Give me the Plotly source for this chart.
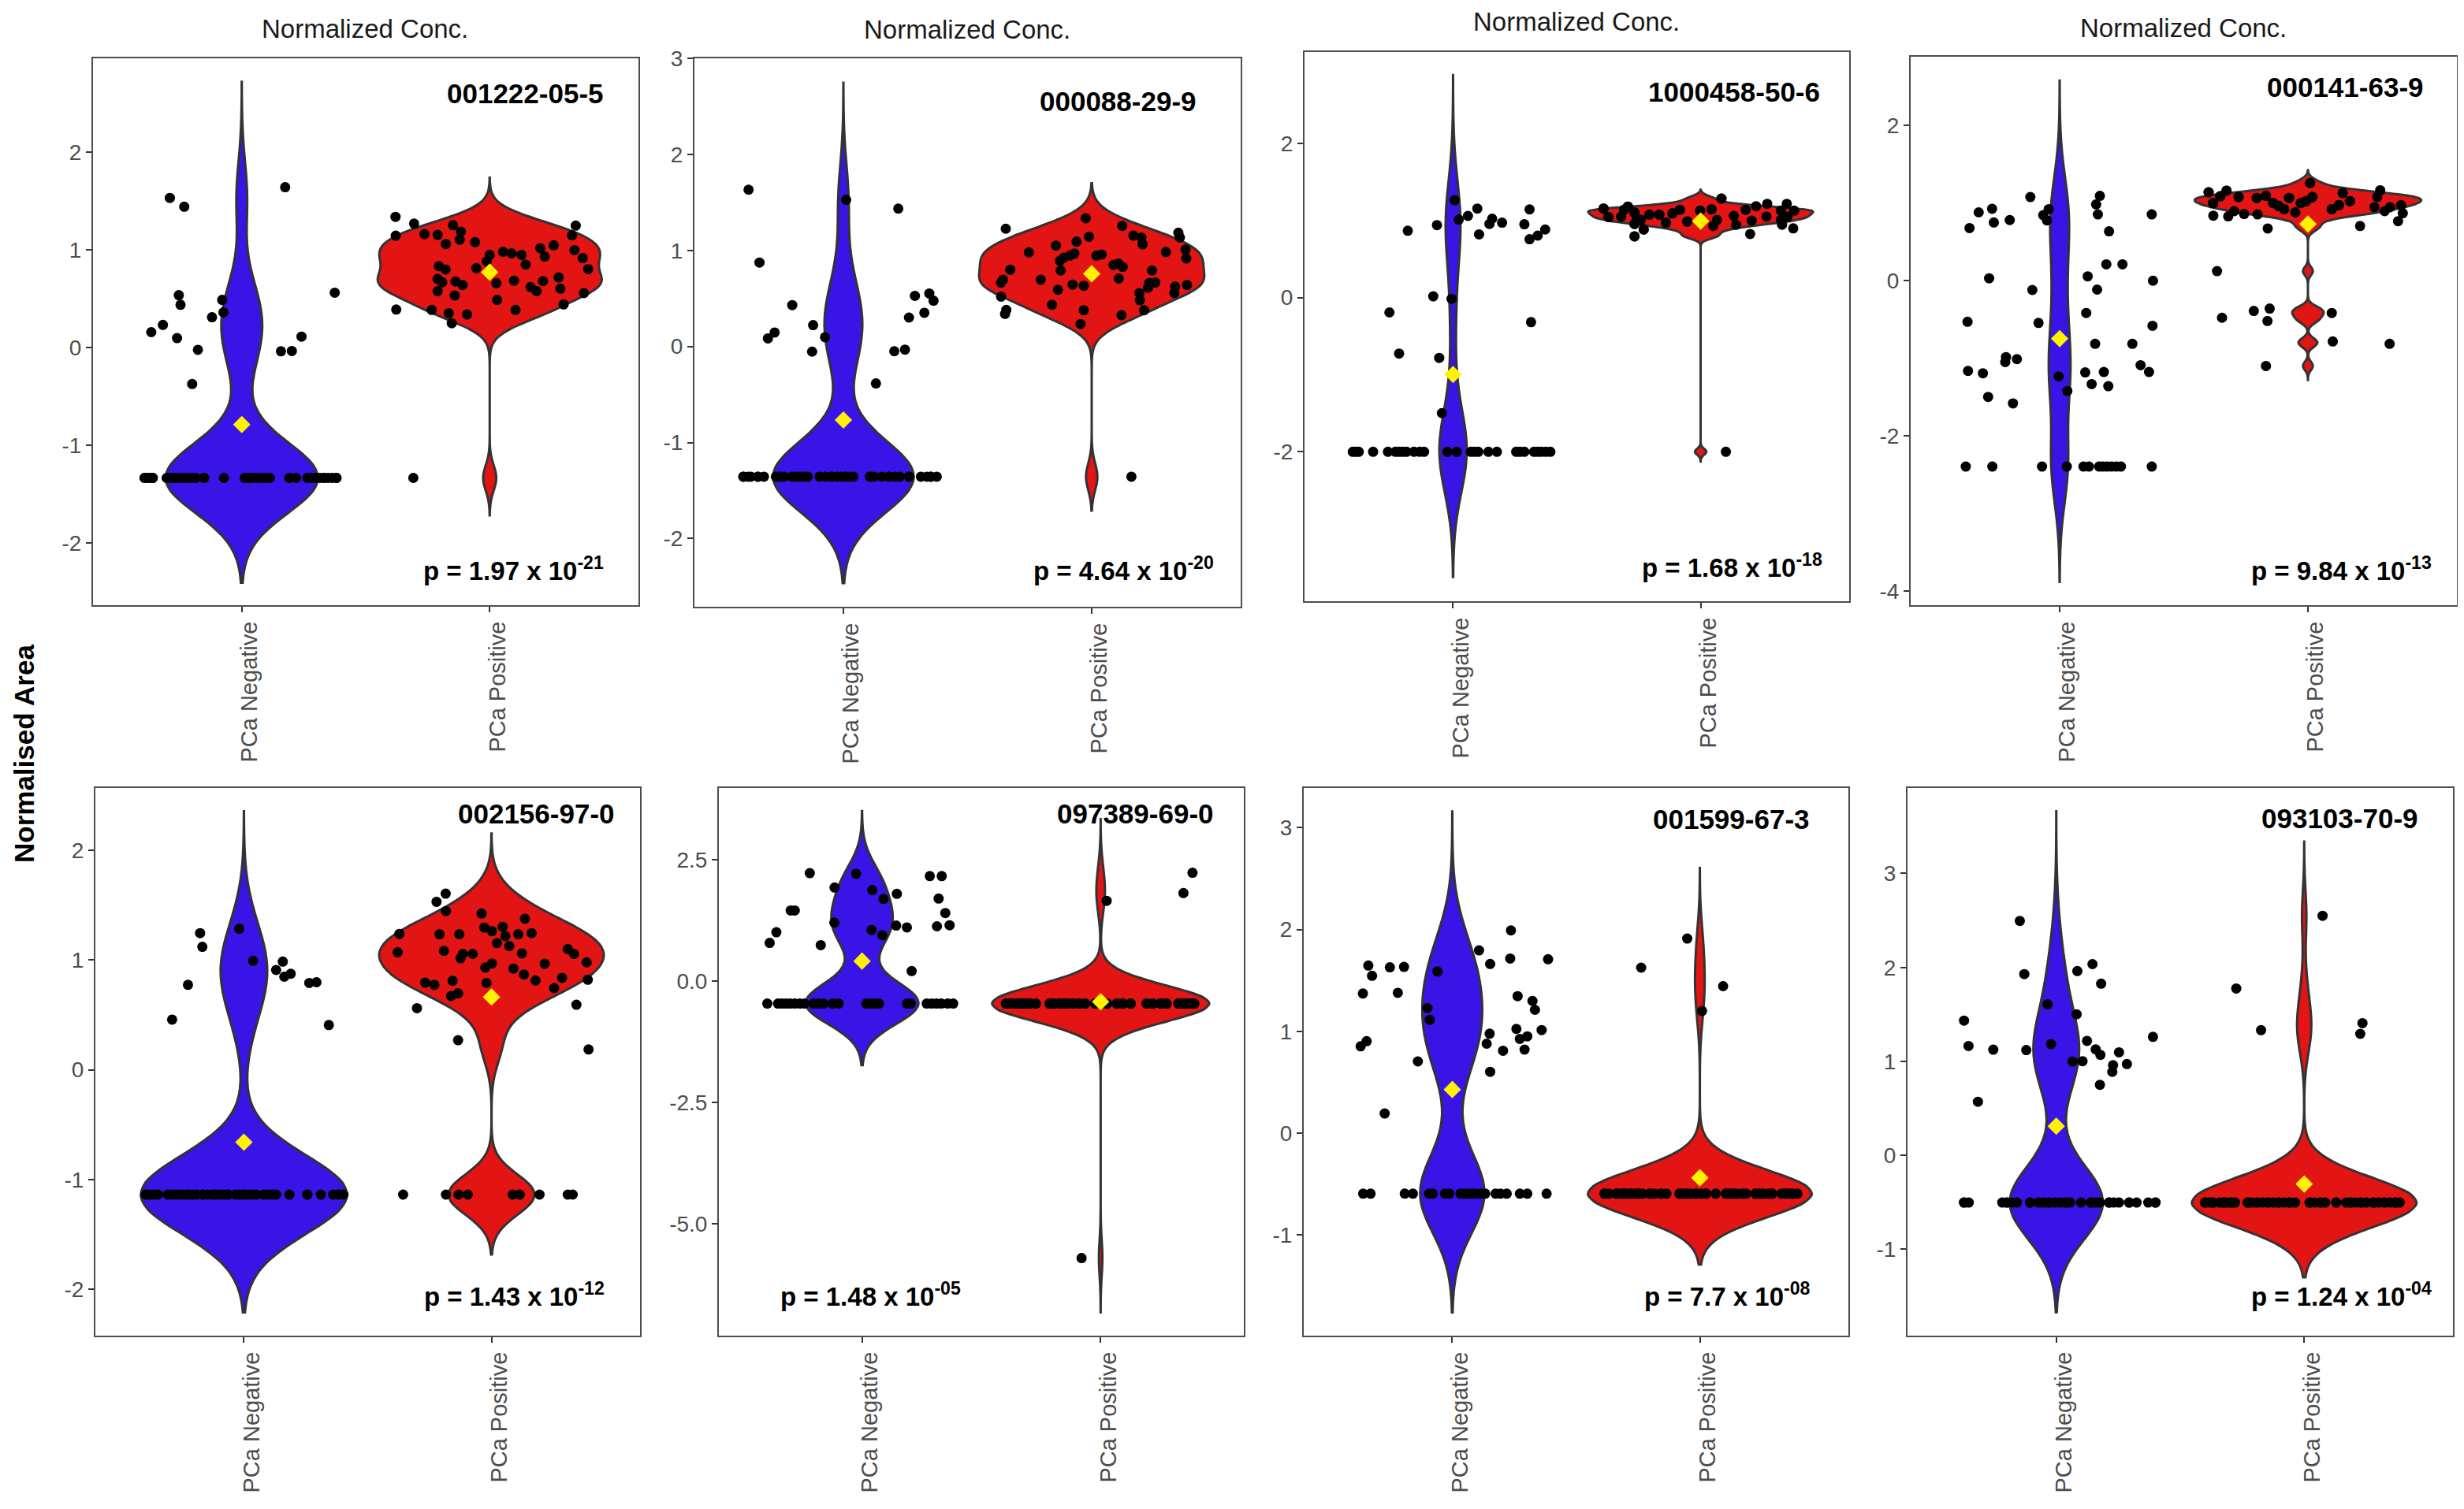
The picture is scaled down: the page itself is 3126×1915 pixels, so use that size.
"""Violin plots of normalised area, PCa negative vs positive, for eight compounds."""
import plotly.graph_objects as go

GROUPS = ['PCa Negative', 'PCa Positive']
CAS = ['001222-05-5', '000088-29-9', '1000458-50-6', '000141-63-9',
       '002156-97-0', '097389-69-0', '001599-67-3', '093103-70-9']
P_TEXT = ['1.97 x 10<sup>-21</sup>', '4.64 x 10<sup>-20</sup>', '1.68 x 10<sup>-18</sup>', '9.84 x 10<sup>-13</sup>',
          '1.43 x 10<sup>-12</sup>', '1.48 x 10<sup>-05</sup>', '7.7 x 10<sup>-08</sup>', '1.24 x 10<sup>-04</sup>']

# panel 1
p1_neg_x = [.71, .768, 1.175, .746, .753, .921, .926, .88, 1.375, .682, .635, .739, .823, 1.158, 1.202, 1.241, .8]
p1_neg_y = [1.53, 1.44, 1.64, .535, .436, .486, .358, .309, .56, .23, .156, .095, -.025, -.04, -.037, .11, -.375]
p1_neg_floor = -1.337
p1_neg_floor_x = [.608, .62, .63, .641, .697, .714, .731, .747, .764, .781, .798, .815, .848, .928, 1.012, 1.029,
                  1.045, 1.062, 1.079, 1.096, 1.113, 1.192, 1.219, 1.264, 1.281, 1.298, 1.315, 1.332, 1.348, 1.365, 1.382]
p1_pos_x = [1.62, 1.695, 1.621, 1.737, 1.79, 1.823, 1.852, 1.884, 1.879, 1.941, 2.0, 1.988, 2.054, 2.088, 2.128, 2.145,
            2.204, 2.222, 2.258, 2.347, 2.332, 2.342, 2.375, 2.397, 1.795, 1.822, 1.946, 1.79, 1.808, 1.862, 1.891, 1.79,
            1.859, 2.027, 2.098, 2.165, 2.189, 2.215, 2.278, 2.285, 2.38, 2.03, 1.623, 1.766, 1.835, 1.909, 2.104, 2.298,
            1.847, 1.692]
p1_pos_y = [1.337, 1.267, 1.144, 1.16, 1.152, 1.058, 1.251, 1.185, 1.103, 1.078, .947, .881, .979, .963, .947, .848,
            1.016, .93, 1.045, 1.247, 1.148, .996, .914, .802, .831, .798, .811, .7, .667, .675, .638, .576,
            .531, .658, .683, .617, .576, .679, .716, .601, .556, .486, .387, .383, .35, .337, .383, .44,
            .247, -1.337]

# panel 2
p2_neg_x = [.618, 1.011, 1.221, .662, .794, .878, .723, .696, .926, .874, 1.205, 1.248, 1.131, 1.288, 1.346, 1.363, 1.326, 1.264]
p2_neg_y = [1.632, 1.527, 1.435, .874, .431, .222, .146, .084, .096, -.054, -.05, -.033, -.385, .527, .552, .477, .351, .301]
p2_neg_floor = -1.356
p2_neg_floor_x = [.597, .616, .627, .656, .68, .728, .744, .76, .792, .808, .824, .84, .856, .904, .928, .952, .976, .992,
                  1.008, 1.024, 1.04, 1.107, 1.123, 1.155, 1.184, 1.208, 1.227, 1.264, 1.312, 1.336, 1.352, 1.376]
p2_pos_x = [1.654, 1.976, 2.123, 1.989, 2.168, 2.2, 2.349, 2.355, 2.205, 1.856, 1.939, 1.747, 1.93, 1.912, 1.888, 1.872,
            2.019, 2.04, 2.299, 2.378, 2.381, 2.088, 2.107, 2.125, 2.243, 1.672, 1.875, 1.795, 1.643, 1.635, 2.109, 1.923,
            1.968, 2.232, 2.256, 1.864, 2.192, 2.227, 2.336, 2.333, 2.384, 1.635, 2.194, 1.84, 1.656, 1.651, 1.968, 2.211,
            2.12, 1.955, 2.16]
p2_pos_y = [1.226, 1.335, 1.255, 1.142, 1.155, 1.134, 1.184, 1.134, 1.063, 1.05, 1.092, .979, .967, .946, .925, .891,
            .946, .958, .983, 1.008, .916, .849, .862, .828, .791, .799, .791, .695, .695, .665, .707, .644,
            .632, .661, .665, .59, .556, .611, .623, .556, .64, .519, .481, .435, .381, .339, .377, .377,
            .326, .234, -1.356]

# panel 3
p3_neg_x = [1.006, 1.023, 1.06, 1.098, 1.158, 1.147, 1.198, 1.105, 1.309, 1.288, 1.372, 1.342, 1.309, .935, .817, .92,
            .994, .743, 1.315, .782, .944, .955]
p3_neg_y = [1.265, 1.014, 1.061, 1.156, 1.025, .957, .973, .821, 1.145, .952, .884, .805, .758, .941, .868, .016,
            -.016, -.193, -.319, -.727, -.784, -1.501]
p3_neg_floor = -2.003
p3_neg_floor_x = [.595, .607, .619, .677, .737, .767, .782, .797, .812, .842, .865, .883, .977, 1.015, 1.072, 1.087,
                  1.102, 1.143, 1.177, 1.255, 1.27, 1.288, 1.327, 1.342, 1.357, 1.375, 1.393]
p3_pos_x = [2.084, 1.608, 1.628, 1.679, 1.691, 1.706, 1.733, 1.743, 1.733, 1.733, 1.77, 1.758, 1.793, 1.833, 1.86, 1.886,
            1.916, 1.946, 1.998, 2.044, 2.066, 2.051, 2.134, 2.143, 2.182, 2.224, 2.269, 2.348, 2.378, 2.206, 2.266, 2.324,
            2.324, 2.329, 2.351, 2.374, 2.2, 2.102]
p3_pos_y = [1.286, 1.156, 1.046, 1.051, 1.14, 1.182, 1.103, 1.025, .957, .795, .884, 1.009, 1.077, 1.077, .973, 1.093,
            1.14, .988, 1.129, 1.145, 1.009, .931, 1.061, .946, 1.14, 1.187, 1.218, 1.218, 1.129, .999, 1.051, 1.129,
            1.009, .946, 1.051, .899, .826, -2.003]

# panel 4
p4_neg_x = [.882, .674, .728, .637, .735, .799, .934, .956, .949, 1.162, 1.147, 1.154, 1.371, 1.199, 1.188, 1.253, 1.113,
            .716, 1.376, .89, 1.151, 1.107, .629, .915, 1.374, 1.143, 1.293, .784, .828, .781, .631, .691, 1.103, 1.178,
            1.326, 1.36, .996, 1.031, 1.129, 1.196, .712, .812]
p4_neg_y = [1.078, .881, .927, .679, .751, .782, .845, .922, .777, 1.093, .984, .855, .855, .637, .212, .212, .057,
            .031, 0, -.119, -.114, -.415, -.528, -.544, -.58, -.813, -.813, -.984, -1.01, -1.047, -1.161, -1.192, -1.181, -1.176,
            -1.088, -1.176, -1.233, -1.42, -1.332, -1.358, -1.497, -1.58]
p4_neg_floor = -2.394
p4_neg_floor_x = [.622, .729, .929, 1.029, 1.096, 1.118, 1.159, 1.174, 1.191, 1.209, 1.228, 1.247, 1.371]
p4_pos_x = [2.009, 1.6, 1.672, 1.618, 1.647, 1.721, 1.794, 1.831, 1.86, 1.882, 1.904, 1.924, 1.949, 1.971, 1.993, 2.018,
            2.14, 2.169, 2.096, 2.125, 2.291, 2.279, 2.268, 2.309, 2.331, 2.375, 2.382, 2.363, 1.619, 1.679, 1.703, 1.743,
            1.797, 1.838, 2.21, 1.634, 1.654, 1.782, 1.846, 1.837, 2.096, 2.1, 2.329, 1.831]
p4_pos_y = [1.259, 1.14, 1.161, 1.0, 1.088, 1.078, 1.067, 1.093, 1.0, .964, .922, 1.067, .881, 1.0, 1.026, 1.078,
            1.13, 1.026, .922, .974, 1.166, 1.078, .948, .896, .948, .974, .87, .767, .839, .829, .896, .86,
            .855, .674, .705, .124, -.477, -.389, -.358, -.518, -.415, -.782, -.813, -1.098]

# panel 5
p5_neg_x = [.981, .823, .832, 1.037, 1.157, 1.13, 1.189, 1.163, 1.264, 1.293, .774, .71, 1.343]
p5_neg_y = [1.284, 1.244, 1.119, .992, .985, .908, .874, .847, .79, .797, .773, .457, .407]
p5_neg_floor = -1.136
p5_neg_floor_x = [.604, .621, .638, .652, .692, .709, .726, .742, .759, .776, .793, .81, .835, .852, .869, .886, .902, .919,
                  .936, .965, .981, .998, 1.015, 1.032, 1.049, 1.079, 1.096, 1.113, 1.13, 1.184, 1.256, 1.311, 1.36, 1.382, 1.402]
p5_pos_x = [1.815, 1.778, 1.816, 1.96, 2.135, 1.971, 2.002, 2.045, 1.628, 1.79, 1.87, 2.056, 2.108, 2.162, 2.022, 2.072,
            1.621, 1.808, 1.924, 1.884, 1.875, 2.123, 2.308, 2.333, 2.384, 2.215, 2.002, 1.975, 2.089, 2.131, 2.178, 2.285,
            2.389, 1.732, 1.769, 1.843, 1.98, 2.253, 1.865, 1.837, 2.343, 1.699, 1.865, 2.392,
            1.643, 1.816, 1.867, 1.904, 2.086, 2.114, 2.194, 2.308, 2.328]
p5_pos_y = [1.603, 1.529, 1.445, 1.422, 1.375, 1.294, 1.261, 1.301, 1.237, 1.234, 1.234, 1.217, 1.234, 1.244, 1.153, 1.126,
            1.069, 1.082, 1.055, 1.055, 1.015, 1.059, 1.099, 1.055, .978, .965, .968, .931, .921, .867, .813, .837,
            .82, .793, .773, .81, .79, .743, .696, .672, .592, .561, .269, .185,
            -1.136, -1.136, -1.136, -1.136, -1.136, -1.136, -1.136, -1.136, -1.136]

# panel 6
p6_neg_x = [.781, .975, .885, 1.043, 1.09, 1.146, 1.284, 1.334, 1.321, 1.349, 1.367, 1.314, 1.143, 1.188, .884, 1.04, 1.085,
            .701, .718, .641, .613, .827, 1.208]
p6_neg_y = [2.219, 2.204, 1.922, 1.869, 1.687, 1.793, 2.158, 2.158, 1.695, 1.398, 1.147, 1.125, 1.14, 1.102, 1.201, 1.049, .942,
            1.451, 1.451, 1.003, .783, .737, .205]
p6_neg_floor = -.464
p6_neg_floor_x = [.603, .648, .664, .681, .698, .718, .739, .759, .797, .817, .839, .877, .902, 1.018, 1.038, 1.055, 1.071,
                  1.188, 1.204, 1.271, 1.292, 1.312, 1.332, 1.359, 1.382]
p6_pos_x = [2.025, 2.347, 2.385, 1.92]
p6_pos_y = [1.649, 1.809, 2.226, -5.699]
p6_pos_floor = -.464
p6_pos_floor_x = [1.603, 1.62, 1.636, 1.653, 1.669, 1.686, 1.703, 1.728, 1.786, 1.802, 1.827, 1.844, 1.86, 1.885, 1.91, 1.935,
                  1.977, 2.002, 2.027, 2.068, 2.093, 2.126, 2.193, 2.218, 2.251, 2.276, 2.326, 2.342, 2.359, 2.375, 2.392]

# panel 7
p7_neg_x = [1.237, 1.108, 1.234, 1.387, 1.153, .661, .748, .805, .94, .676, .639, .78, 1.264, 1.324, 1.334, .9, .909,
            1.259, 1.361, 1.151, 1.303, 1.273, .654, .63, 1.139, 1.292, 1.205, .861, 1.153, .727]
p7_neg_y = [1.991, 1.795, 1.715, 1.708, 1.661, 1.646, 1.628, 1.632, 1.588, 1.545, 1.371, 1.378, 1.345, 1.298, 1.211, 1.229, 1.113,
            1.023, 1.012, .976, .95, .925, .903, .852, .878, .82, .809, .704, .602, .192]
p7_neg_floor = -.595
p7_neg_floor_x = [.64, .67, .808, .841, .906, .921, .97, .988, 1.033, 1.048, 1.063, 1.078, 1.093, 1.115, 1.133, 1.175, 1.195,
                  1.22, 1.273, 1.303, 1.381]
p7_pos_x = [1.949, 1.763, 2.094, 2.009]
p7_pos_y = [1.911, 1.625, 1.443, 1.2]
p7_pos_floor = -.595
p7_pos_floor_x = [1.615, 1.633, 1.663, 1.678, 1.693, 1.708, 1.723, 1.738, 1.753, 1.768, 1.798, 1.816, 1.843, 1.865, 1.918, 1.933,
                  1.948, 1.963, 1.985, 2.007, 2.025, 2.064, 2.105, 2.12, 2.135, 2.15, 2.172, 2.187, 2.225, 2.24, 2.255, 2.277,
                  2.292, 2.33, 2.345, 2.36, 2.375, 2.394]

# panel 8
p8_neg_x = [.853, 1.146, 1.085, .871, 1.181, .965, 1.082, .628, 1.39, 1.124, .979, .646, .746, .879, 1.159, 1.178, 1.253,
            1.066, 1.106, 1.229, 1.285, 1.226, 1.176, .684]
p8_neg_y = [2.495, 2.035, 1.961, 1.929, 1.827, 1.607, 1.501, 1.434, 1.261, 1.218, 1.183, 1.163, 1.124, 1.12, 1.128, 1.069, 1.096,
            .998, 1.002, .959, .971, .888, .75, .57]
p8_neg_floor = -.503
p8_neg_floor_x = [.628, .647, .782, .801, .821, .841, .894, .929, .949, .971, .993, 1.015, 1.037, 1.056, 1.1, 1.14, 1.159, 1.176,
                  1.213, 1.232, 1.253, 1.294, 1.324, 1.371, 1.4]
p8_pos_x = [2.074, 1.726, 1.826, 2.235, 2.226]
p8_pos_y = [2.55, 1.776, 1.332, 1.407, 1.293]
p8_pos_floor = -.503
p8_pos_floor_x = [1.6, 1.618, 1.632, 1.659, 1.676, 1.691, 1.706, 1.721, 1.772, 1.787, 1.809, 1.831, 1.853, 1.875, 1.897, 1.919,
                  1.941, 1.963, 2.022, 2.044, 2.066, 2.085, 2.129, 2.169, 2.188, 2.206, 2.228, 2.25, 2.279, 2.301, 2.324,
                  2.346, 2.368, 2.385]

# dots overlap heavily in the crowded rows, so some samples sit on top of each other
p1_neg_floor_x = p1_neg_floor_x + p1_neg_floor_x[::3]
p2_neg_floor_x = p2_neg_floor_x + p2_neg_floor_x[::3]
p5_neg_floor_x = p5_neg_floor_x + p5_neg_floor_x[::3]
p8_neg_floor_x = p8_neg_floor_x + p8_neg_floor_x[::3]
p3_pos_x, p3_pos_y = p3_pos_x + p3_pos_x[:20], p3_pos_y + p3_pos_y[:20]
p4_pos_x, p4_pos_y = p4_pos_x + p4_pos_x[:20], p4_pos_y + p4_pos_y[:20]
p6_pos_floor_x = p6_pos_floor_x * 2
p7_pos_floor_x = p7_pos_floor_x + p7_pos_floor_x[::2]
p8_pos_floor_x = p8_pos_floor_x + p8_pos_floor_x[::2]

NEG_X = [p1_neg_x + p1_neg_floor_x, p2_neg_x + p2_neg_floor_x, p3_neg_x + p3_neg_floor_x, p4_neg_x + p4_neg_floor_x,
         p5_neg_x + p5_neg_floor_x, p6_neg_x + p6_neg_floor_x, p7_neg_x + p7_neg_floor_x, p8_neg_x + p8_neg_floor_x]
NEG_Y = [p1_neg_y + [p1_neg_floor] * len(p1_neg_floor_x), p2_neg_y + [p2_neg_floor] * len(p2_neg_floor_x),
         p3_neg_y + [p3_neg_floor] * len(p3_neg_floor_x), p4_neg_y + [p4_neg_floor] * len(p4_neg_floor_x),
         p5_neg_y + [p5_neg_floor] * len(p5_neg_floor_x), p6_neg_y + [p6_neg_floor] * len(p6_neg_floor_x),
         p7_neg_y + [p7_neg_floor] * len(p7_neg_floor_x), p8_neg_y + [p8_neg_floor] * len(p8_neg_floor_x)]
POS_X = [p1_pos_x, p2_pos_x, p3_pos_x, p4_pos_x, p5_pos_x, p6_pos_x + p6_pos_floor_x,
         p7_pos_x + p7_pos_floor_x, p8_pos_x + p8_pos_floor_x]
POS_Y = [p1_pos_y, p2_pos_y, p3_pos_y, p4_pos_y, p5_pos_y, p6_pos_y + [p6_pos_floor] * len(p6_pos_floor_x),
         p7_pos_y + [p7_pos_floor] * len(p7_pos_floor_x), p8_pos_y + [p8_pos_floor] * len(p8_pos_floor_x)]

# group means (yellow diamonds)
NEG_MEAN = [-.79, -.766, -.999, -.746, -.659, .41, .428, .31]
POS_MEAN = [.77, .757, .993, .731, .662, -.426, -.439, -.306]

# density settings
NEG_BW = [.36, .371, .54, .495, .356, .425, .389, .389]
POS_BW = [.13, .14, .04, .055, .183, .37, .231, .264]
NEG_SPAN = [[-2.41, 2.72], [-2.464, 2.745], [-3.63, 2.89], [-3.88, 2.58],
            [-2.208, 2.353], [-1.733, 3.495], [-1.762, 3.159], [-1.67, 3.662]]
POS_SPAN = [[-1.72, 1.737], [-1.71, 1.70], [-2.13, 1.40], [-1.28, 1.425],
            [-1.681, 2.151], [-6.816, 3.328], [-1.291, 2.604], [-1.30, 3.34]]
NEG_WIDTH = [.615, .566, .11, .088, .832, .473, .26, .375]
POS_WIDTH = [.904, .907, .908, .912, .907, .91, .904, .906]

Y_RANGES = [[-2.64, 2.96], [-2.71, 3.0], [-3.945, 3.19], [-4.18, 2.886],
            [-2.42, 2.565], [-7.295, 3.97], [-1.99, 3.39], [-1.92, 3.91]]
Y_TICKS = [[-2, -1, 0, 1, 2], [-2, -1, 0, 1, 2, 3], [-2, 0, 2], [-4, -2, 0, 2],
           [-2, -1, 0, 1, 2], [-5, -2.5, 0, 2.5], [-1, 0, 1, 2, 3], [-1, 0, 1, 2, 3]]
Y_LABELS = [['-2', '-1', '0', '1', '2'], ['-2', '-1', '0', '1', '2', '3'], ['-2', '0', '2'], ['-4', '-2', '0', '2'],
            ['-2', '-1', '0', '1', '2'], ['-5.0', '-2.5', '0.0', '2.5'], ['-1', '0', '1', '2', '3'], ['-1', '0', '1', '2', '3']]

W, H = 3126, 1915
PAGE_MARGIN = 8  # default body margin of the written page
PLOT_W, PLOT_H = W - PAGE_MARGIN, H - PAGE_MARGIN
# panel boxes in page pixels: left, right, top, bottom
BOXES = [(118, 810, 74, 768), (881, 1574, 74, 770), (1655, 2346, 66, 763), (2424, 3117, 72, 768),
         (121, 812, 1000, 1695), (912, 1578, 1000, 1695), (1654, 2345, 1000, 1695), (2420, 3112, 1000, 1695)]
TITLE_POS = [(463, 36), (1227, 37), (2000, 28), (2770, 35)]
CAS_POS = [(666, 119), (1418, 128), (2200, 116), (2975, 111), (680, 1032), (1440, 1032), (2196, 1039), (2968, 1038)]
P_POS = [(651, 722), (1425, 722), (2197, 718), (2970, 722), (652, 1643), (1104, 1643), (2191, 1643), (2970, 1643)]

BLUE = '#3A14E6'
RED = '#E31414'
OUTLINE = '#333333'
FONT = 'Liberation Sans'


def frac_x(px):
    return (px - PAGE_MARGIN) / PLOT_W


def frac_y(py):
    return 1 - (py - PAGE_MARGIN) / PLOT_H


def page_note(px, py, text, size, color='black', bold=False, angle=0):
    if bold:
        text = f'<b>{text}</b>'
    return dict(xref='paper', yref='paper', x=frac_x(px), y=frac_y(py), text=text, showarrow=False,
                textangle=angle, font=dict(family=FONT, size=size, color=color),
                xanchor='center', yanchor='middle')


fig = go.Figure()
notes = []

for i in range(8):
    suffix = '' if i == 0 else str(i + 1)
    xa, ya = 'x' + suffix, 'y' + suffix

    for pos, y, bw, span, width, color in [
        (1, NEG_Y[i], NEG_BW[i], NEG_SPAN[i], NEG_WIDTH[i], BLUE),
        (2, POS_Y[i], POS_BW[i], POS_SPAN[i], POS_WIDTH[i], RED),
    ]:
        fig.add_trace(go.Violin(
            y=y, x0=pos, name=GROUPS[pos - 1], xaxis=xa, yaxis=ya,
            bandwidth=bw, spanmode='manual', span=span,
            scalemode='width', width=width, points=False,
            fillcolor=color, line=dict(color=OUTLINE, width=3),
            opacity=1, showlegend=False, hoverinfo='skip',
        ))

    # jittered samples
    fig.add_trace(go.Scatter(
        x=NEG_X[i] + POS_X[i], y=NEG_Y[i] + POS_Y[i], mode='markers', xaxis=xa, yaxis=ya,
        marker=dict(color='black', size=13), showlegend=False,
    ))
    # means
    fig.add_trace(go.Scatter(
        x=[1, 2], y=[NEG_MEAN[i], POS_MEAN[i]], mode='markers', xaxis=xa, yaxis=ya,
        marker=dict(color='#FFF200', size=17, symbol='diamond'), showlegend=False,
    ))

    left, right, top, bottom = BOXES[i]
    axis_style = dict(showgrid=False, zeroline=False, showline=True, mirror=True, linecolor='#4D4D4D', linewidth=2,
                      ticks='outside', ticklen=7, tickwidth=2, tickcolor=OUTLINE, automargin=False)
    tick_grey = '#4D4D4D'
    fig.update_layout(**{
        'xaxis' + suffix: dict(axis_style, domain=[frac_x(left), frac_x(right)], range=[0.4, 2.6], anchor=ya,
                               tickvals=[1, 2], ticktext=GROUPS, tickangle=-90, ticklabelshift=10,
                               tickfont=dict(family=FONT, size=29, color=tick_grey)),
        'yaxis' + suffix: dict(axis_style, domain=[frac_y(bottom), frac_y(top)], range=Y_RANGES[i], anchor=xa,
                               tickvals=Y_TICKS[i], ticktext=Y_LABELS[i],
                               tickfont=dict(family=FONT, size=28, color=tick_grey)),
    })

    notes.append(page_note(*CAS_POS[i], CAS[i], 35, bold=True))
    notes.append(page_note(*P_POS[i], 'p = ' + P_TEXT[i], 33, bold=True))
    if i < 4:
        notes.append(page_note(*TITLE_POS[i], 'Normalized Conc.', 33, color='#1A1A1A'))

notes.append(page_note(31, 957, 'Normalised Area', 35, bold=True, angle=-90))

fig.update_layout(
    width=PLOT_W, height=PLOT_H, margin=dict(l=0, r=0, t=0, b=0),
    paper_bgcolor='white', plot_bgcolor='white',
    violinmode='overlay', showlegend=False,
    font=dict(family=FONT),
    annotations=notes,
)

fig.write_html("out.html")
